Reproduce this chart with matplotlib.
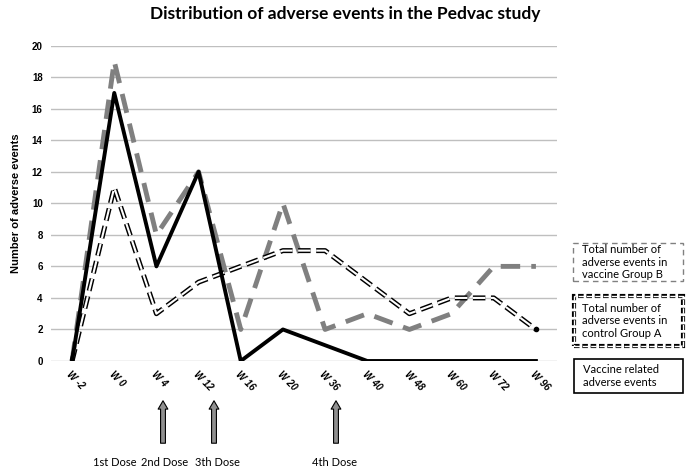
import matplotlib.pyplot as plt
from matplotlib.patches import Rectangle
import numpy as np

plt.rcParams['lines.scale_dashes'] = False

weeks = ['W -2', 'W 0', 'W 4', 'W 12', 'W 16', 'W 20', 'W 36', 'W 40', 'W 48', 'W 60', 'W 72', 'W 96']
vaccine_related = [0, 17, 6, 12, 0, 2, 1, 0, 0, 0, 0, 0]
group_b = [0, 19, 8, 12, 2, 10, 2, 3, 2, 3, 6, 6]
group_a = [0, 11, 3, 5, 6, 7, 7, 5, 3, 4, 4, 2]
dose_labels = ['1st Dose', '2nd Dose', '3th Dose', '4th Dose']
dose_weeks = ['W 0', 'W 4', 'W 12', 'W 36']

W, H = 689, 472
fig = plt.figure(figsize=(W / 100, H / 100), dpi=100)
ax = fig.add_axes([51 / W, 1 - 361 / H, (557 - 51) / W, (361 - 45.6) / H])

x = np.arange(len(weeks))

# linie
ax.plot(x, group_b, color='#808080', lw=3.5, dashes=(14, 8), zorder=3)
ax.plot(x, group_a, color='black', lw=3.6, dashes=(9, 4), zorder=4)
ax.plot(x, group_a, color='white', lw=1.5, dashes=(9, 4), zorder=5)
ax.plot(x[-1], group_a[-1], 'o', color='black', ms=3, zorder=6)
ax.plot(x, vaccine_related, color='black', lw=2.8, zorder=7)

ax.set_xlim(-0.5, len(weeks) - 0.5)
ax.set_ylim(0, 20)
ax.set_yticks(range(0, 21, 2))
ax.set_yticklabels([str(v) for v in range(0, 21, 2)], fontsize=7, fontweight='bold',
                   family='Liberation Sans')
ax.grid(axis='y', color='#bfbfbf', lw=1)
ax.set_axisbelow(True)
for s in ax.spines.values():
    s.set_visible(False)
ax.tick_params(length=0, pad=6)
ax.set_xticks(x)
ax.set_xticklabels(weeks, rotation=-45, ha='left', va='top', fontsize=7,
                   fontweight='bold', fontstyle='italic', family='Liberation Sans',
                   rotation_mode='anchor')
ax.set_ylabel('Number of adverse events', fontsize=8, fontweight='bold',
              family='Liberation Sans', labelpad=8)

fig.text(345 / W, 1 - 14 / H, 'Distribution of adverse events in the Pedvac study',
         ha='center', va='center', fontsize=12.5, fontweight='bold', family='Lato')

# strzalki dawek
arrow_x = {'W 4': 163, 'W 12': 214, 'W 36': 336}
for wk, px in arrow_x.items():
    fig.add_artist(plt.Annotation('', xy=(px / W, 1 - 398 / H), xytext=(px / W, 1 - 446 / H),
                                  xycoords='figure fraction', textcoords='figure fraction',
                                  arrowprops=dict(arrowstyle='simple,head_width=0.7,head_length=0.6,tail_width=0.35',
                                                  fc='#909090', ec='black', lw=0.8)))
dose_x = [115, 165, 217, 335]
for lab, px in zip(dose_labels, dose_x):
    fig.text(px / W, 1 - 463 / H, lab, ha='center', va='center', fontsize=8, family='Lato')

# legenda
boxes = [
    (573, 243, 683, 281, 'Total number of\nadverse events in\nvaccine Group B'),
    (573, 296, 683, 346, 'Total number of\nadverse events in\ncontrol Group A'),
    (574, 359, 683, 393, 'Vaccine related\nadverse events'),
]
r1 = Rectangle((573 / W, 1 - 281 / H), 110 / W, 38 / H, transform=fig.transFigure,
               fill=False, ec='#808080', lw=1, ls=(0, (4, 3)))
r2a = Rectangle((574 / W, 1 - 346 / H), 109 / W, 50 / H, transform=fig.transFigure,
                fill=False, ec='black', lw=3, ls=(0, (4, 2)))
r2b = Rectangle((574 / W, 1 - 346 / H), 109 / W, 50 / H, transform=fig.transFigure,
                fill=False, ec='white', lw=1, ls=(0, (4, 2)))
r3 = Rectangle((574 / W, 1 - 393 / H), 109 / W, 34 / H, transform=fig.transFigure,
               fill=False, ec='black', lw=1.2)
for r in (r1, r2a, r2b, r3):
    fig.add_artist(r)
for x0, y0, x1, y1, txt in boxes:
    fig.text((x0 + 9) / W, 1 - (y0 + y1) / 2 / H, txt, ha='left', va='center',
             fontsize=8, family='Lato', linespacing=1.2)

fig.savefig('out.png', dpi=100)
